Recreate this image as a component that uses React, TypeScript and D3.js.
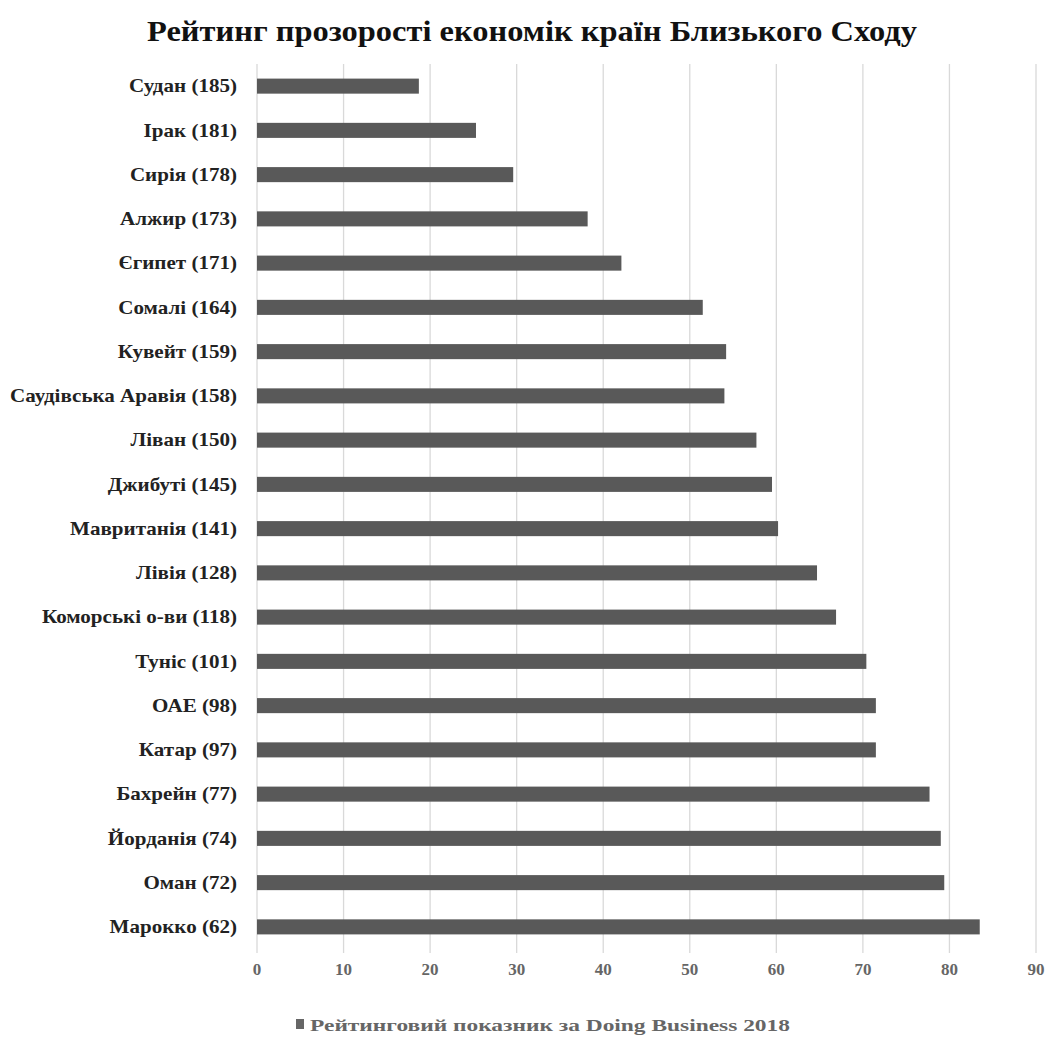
import React from "react";
import * as d3 from "d3";

const countries = [
  "Судан (185)", "Ірак (181)", "Сирія (178)", "Алжир (173)", "Єгипет (171)",
  "Сомалі (164)", "Кувейт (159)", "Саудівська Аравія (158)", "Ліван (150)",
  "Джибуті (145)", "Мавританія (141)", "Лівія (128)", "Коморські о-ви (118)",
  "Туніс (101)", "ОАЕ (98)", "Катар (97)", "Бахрейн (77)", "Йорданія (74)",
  "Оман (72)", "Марокко (62)",
];
const scores = [
  18.7, 25.3, 29.6, 38.2, 42.1, 51.5, 54.2, 54.0, 57.7, 59.5, 60.2, 64.7,
  66.9, 70.4, 71.5, 71.5, 77.7, 79.0, 79.4, 83.5,
];
const xTicks = [0, 10, 20, 30, 40, 50, 60, 70, 80, 90];
const title = "Рейтинг прозорості економік країн Близького Сходу";
const legendLabel = "Рейтинговий показник за Doing Business 2018";

const W = 1050;
const H = 1039;
const left = 257;
const right = 1036;
const top = 64;
const bottom = 949;
const FONT = "'Liberation Serif', 'Times New Roman', serif";

export default function App() {
  const x = d3.scaleLinear().domain([0, 90]).range([left, right]);
  const y = d3.scaleBand<string>().domain(countries).range([top, bottom]).paddingInner(0.66).paddingOuter(0.33);
  return (
    <svg width={W} height={H} style={{ position: "absolute", left: 0, top: 0, background: "#fff" }}>
      <rect x={0} y={0} width={W} height={H} fill="#fff" />
      <text x={532} y={41} textAnchor="middle" fontFamily={FONT} fontWeight="bold" fontSize={29} fill="#111" textLength={770} lengthAdjust="spacingAndGlyphs">
        {title}
      </text>
      {xTicks.map((t) => (
        <line key={"g" + t} x1={x(t)} x2={x(t)} y1={top} y2={bottom + 4} stroke="#d9d9d9" strokeWidth={1.3} />
      ))}
      {countries.map((c, i) => (
        <rect key={"b" + c} x={x(0)} y={y(c)} width={x(scores[i]) - x(0)} height={y.bandwidth()} fill="#595959" />
      ))}
      <g transform="translate(237,0) scale(1.17,1)">
        {countries.map((c) => (
          <text key={"l" + c} x={0} y={(y(c) as number) + y.bandwidth() / 2} dy="0.35em" textAnchor="end" fontFamily={FONT} fontWeight="bold" fontSize={18} fill="#222">
            {c}
          </text>
        ))}
      </g>
      {xTicks.map((t) => (
        <text key={"t" + t} x={x(t)} y={975} textAnchor="middle" fontFamily={FONT} fontWeight="bold" fontSize={17} fill="#666">
          {t}
        </text>
      ))}
      <rect x={296} y={1019} width={8} height={10} fill="#666" />
      <text x={310} y={1031} fontFamily={FONT} fontWeight="bold" fontSize={17} fill="#666" textLength={480} lengthAdjust="spacingAndGlyphs">
        {legendLabel}
      </text>
    </svg>
  );
}
